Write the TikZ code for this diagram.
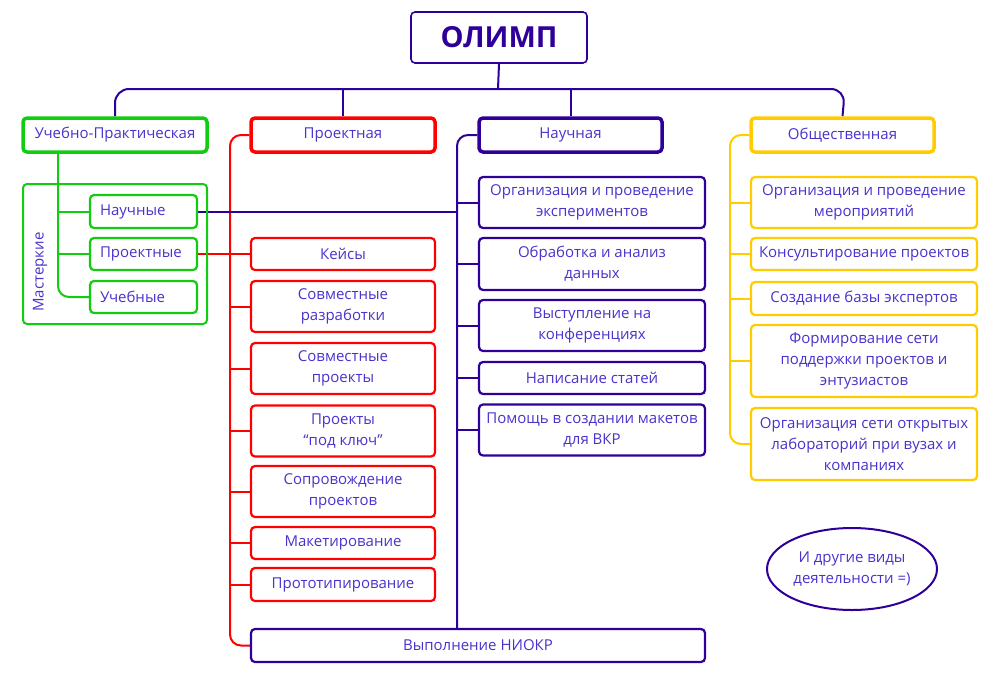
\documentclass[tikz,border=0pt]{standalone}
\usepackage{fontspec}
\setmainfont{Open Sans}
\usetikzlibrary{shapes.geometric,backgrounds}
\definecolor{ind}{RGB}{46,0,153}
\definecolor{txt}{RGB}{72,52,204}
\definecolor{grn}{RGB}{17,204,17}
\definecolor{rd}{RGB}{255,0,0}
\definecolor{yl}{RGB}{255,204,0}
\begin{document}
\begin{tikzpicture}[x=1pt,y=-1pt,
  base/.style={rectangle, rounded corners=4pt, fill=white, inner sep=0pt, align=center,
    text=txt, font=\fontsize{15}{21}\selectfont},
  head/.style={base, line width=3.5pt, minimum width=184pt, minimum height=34pt},
  sub/.style={base, line width=2.2pt},
  msub/.style={sub, draw=grn, minimum width=107pt, align=left, text width=87pt},
  gline/.style={draw=grn, line width=2pt, rounded corners=11pt},
  rline/.style={draw=rd, line width=2pt, rounded corners=11pt},
  iline/.style={draw=ind, line width=2pt, rounded corners=11pt},
  yline/.style={draw=yl, line width=2pt, rounded corners=11pt}]
\useasboundingbox (0,0) rectangle (1000,685);

% coordinates
\coordinate (hl) at (115,89);
\coordinate (hub) at (498,89);
\coordinate (hr) at (845,89);
\coordinate (gtop) at (58,152);
\coordinate (rb) at (230,645.5);
\coordinate (ib) at (457,629);
\coordinate (yb) at (730,444);

% Masterkie container
\node[base, draw=grn, line width=2pt, fill=none, minimum width=184pt, minimum height=140pt] (mast) at (115,254) {};
\node[rotate=90, text=txt, font=\fontsize{15}{21}\selectfont, inner sep=0pt] (mlabel) at (40,272) {Мастеркие};

% top level
\node[base, draw=ind, line width=1.6pt, minimum width=176pt, minimum height=51pt,
  font=\bfseries\fontsize{29}{34}\selectfont, text=ind] (olimp) at (499,37.5) {ОЛИМП};
\node[head, draw=grn] (uch) at (115,135) {Учебно-Практическая};
\node[head, draw=rd] (proj) at (343,135) {Проектная};
\node[head, draw=ind, minimum width=183pt] (nauk) at (570.5,135) {Научная};
\node[head, draw=yl, minimum width=183pt] (obsh) at (842.5,135) {Общественная};

% green subs
\node[msub, minimum height=33pt] (m1) at (143.5,211.5) {Научные};
\node[msub, minimum height=32pt] (m2) at (143.5,254) {Проектные};
\node[msub, minimum height=32pt] (m3) at (143.5,297) {Учебные};

% red boxes
\node[sub, draw=rd, minimum width=184pt, minimum height=32pt] (r1) at (343,254) {Кейсы};
\node[sub, draw=rd, minimum width=184pt, minimum height=51pt] (r2) at (343,306.5) {Совместные\\разработки};
\node[sub, draw=rd, minimum width=184pt, minimum height=51pt] (r3) at (343,368.5) {Совместные\\проекты};
\node[sub, draw=rd, minimum width=184pt, minimum height=51pt] (r4) at (343,431) {Проекты\\“под ключ”};
\node[sub, draw=rd, minimum width=184pt, minimum height=51pt] (r5) at (343,491.5) {Сопровождение\\проектов};
\node[sub, draw=rd, minimum width=184pt, minimum height=32pt] (r6) at (343,543) {Макетирование};
\node[sub, draw=rd, minimum width=184pt, minimum height=33pt] (r7) at (343,584.5) {Прототипирование};

% indigo boxes
\node[sub, draw=ind, minimum width=226pt, minimum height=51pt] (n1) at (592,202.5) {Организация и проведение\\экспериментов};
\node[sub, draw=ind, minimum width=226pt, minimum height=52pt] (n2) at (592,264) {Обработка и анализ\\данных};
\node[sub, draw=ind, minimum width=226pt, minimum height=51pt] (n3) at (592,325.5) {Выступление на\\конференциях};
\node[sub, draw=ind, minimum width=226pt, minimum height=32pt] (n4) at (592,378) {Написание статей};
\node[sub, draw=ind, minimum width=226pt, minimum height=51pt] (n5) at (592,430) {Помощь в создании макетов\\для ВКР};
\node[sub, draw=ind, minimum width=454pt, minimum height=33pt] (niokr) at (478,645.5) {Выполнение НИОКР};

% yellow boxes
\node[sub, draw=yl, minimum width=226pt, minimum height=51pt] (y1) at (864,202.5) {Организация и проведение\\мероприятий};
\node[sub, draw=yl, minimum width=226pt, minimum height=32pt] (y2) at (864,254) {Консультирование проектов};
\node[sub, draw=yl, minimum width=226pt, minimum height=33pt] (y3) at (864,298.5) {Создание базы экспертов};
\node[sub, draw=yl, minimum width=226pt, minimum height=72pt] (y4) at (864,361) {Формирование сети\\поддержки проектов и\\энтузиастов};
\node[sub, draw=yl, minimum width=226pt, minimum height=72pt] (y5) at (864,444) {Организация сети открытых\\лабораторий при вузах и\\компаниях};

% ellipse
\node[ellipse, draw=ind, line width=2pt, minimum width=170pt, minimum height=82pt, inner sep=0pt,
  align=center, text=txt, font=\fontsize{15}{21}\selectfont] (other) at (852,569) {И другие виды\\деятельности =)};

% connectors (behind boxes)
\begin{pgfonlayer}{background}
  % top
  \draw[iline, rounded corners=0pt] (olimp.south) -- (hub);
  \draw[iline, rounded corners=14pt] (uch.north) -- (hl) -- (hr) -- (obsh.north);
  \draw[iline] (proj.north) -- (proj.north |- hub);
  \draw[iline] (nauk.north) -- (nauk.north |- hub);
  % red branch
  \draw[rline] (proj.west) -| (rb) -- (niokr.west);
  \foreach \b in {r1,r2,r3,r4,r5,r6,r7} \draw[rline] (\b.west) -- (\b.west -| rb);
  % green branch + links
  \draw[iline] (m1.east) -- (m1.east -| ib);
  \draw[rline] (m2.east) -- (r1.west);
  \draw[gline] (gtop) |- (m3.west);
  \draw[gline] (m1.west) -- (m1.west -| gtop);
  \draw[gline] (m2.west) -- (m2.west -| gtop);
  % indigo branch
  \draw[iline] (nauk.west) -| (ib);
  \foreach \b in {n1,n2,n3,n4,n5} \draw[iline] (\b.west) -- (\b.west -| ib);
  % yellow branch
  \draw[yline] (obsh.west) -| (yb) -- (y5.west);
  \foreach \b in {y1,y2,y3,y4} \draw[yline] (\b.west) -- (\b.west -| yb);
\end{pgfonlayer}
\end{tikzpicture}
\end{document}
